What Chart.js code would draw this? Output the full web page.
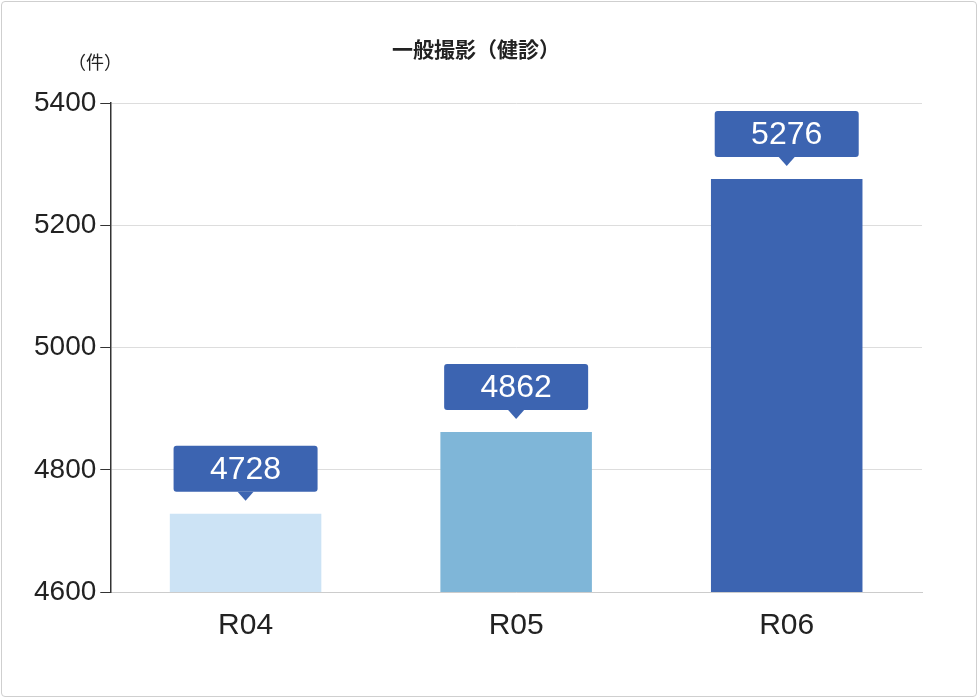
<!DOCTYPE html>
<html lang="ja">
<head>
<meta charset="UTF-8" />
<title>一般撮影（健診）</title>
<style>
    html, body { margin: 0; padding: 0; background: #fff; }
    .frame { position: absolute; left: 1px; top: 1px; width: 976px; height: 696px; border: 1px solid #cfcfcf; border-radius: 4px; box-sizing: border-box; }
    .unit { position: absolute; left: 68px; top: 48px; font: 18px "Noto Sans CJK JP", sans-serif; color: #222; }
    canvas { position: absolute; left: 0; top: 0; }
</style>
<script src="https://cdn.jsdelivr.net/npm/chart.js"></script>
</head>
<body>
<div class="frame"></div>
<canvas id="c" width="980" height="700"></canvas>
<div class="unit">（件）</div>
<script>
const categories = ['R04', 'R05', 'R06'];
const values = [4728, 4862, 5276];
const barColors = ['#cce3f5', '#7fb6d8', '#3c64b1'];
const yTicks = [4600, 4800, 5000, 5200, 5400];

// callout box above each bar
const callouts = {
    id: 'callouts',
    afterDatasetsDraw(chart) {
        const ctx = chart.ctx;
        chart.getDatasetMeta(0).data.forEach((bar, i) => {
            const w = 144, h = 46, gap = 22;
            const x = bar.x - w / 2, y = bar.y - gap - h;
            ctx.save();
            ctx.fillStyle = '#3c64b1';
            ctx.beginPath();
            ctx.roundRect(x, y, w, h, 3);
            ctx.fill();
            ctx.beginPath();
            ctx.moveTo(bar.x - 8, y + h);
            ctx.lineTo(bar.x, y + h + 9);
            ctx.lineTo(bar.x + 8, y + h);
            ctx.fill();
            ctx.fillStyle = '#fff';
            ctx.font = '32px "Liberation Sans", Arial, sans-serif';
            ctx.textAlign = 'center';
            ctx.textBaseline = 'middle';
            ctx.fillText(String(values[i]), bar.x, y + h / 2 + 1);
            ctx.restore();
        });
    }
};

new Chart(document.getElementById('c'), {
    type: 'bar',
    data: { labels: categories, datasets: [{ data: values, backgroundColor: barColors, barPercentage: 0.56, categoryPercentage: 1 }] },
    options: {
        responsive: false,
        animation: false,
        layout: { padding: { left: 30, right: 58, top: 0, bottom: 48 } },
        plugins: {
            legend: { display: false },
            tooltip: { enabled: false },
            title: { display: true, text: '一般撮影（健診）', color: '#222', font: { family: '"Noto Sans CJK JP", sans-serif', size: 21, weight: 'bold' }, padding: { top: 36, bottom: 42 } }
        },
        scales: {
            x: {
                grid: { display: false },
                border: { color: '#cccccc' },
                ticks: { color: '#222', font: { family: '"Liberation Sans", Arial', size: 30 }, padding: 8 }
            },
            y: {
                min: 4600, max: 5400,
                afterBuildTicks: axis => { axis.ticks = yTicks.map(v => ({ value: v })); },
                grid: { color: '#dddddd', tickColor: '#333', tickLength: 10 },
                border: { color: '#333', width: 1.5 },
                ticks: { color: '#222', font: { family: '"Liberation Sans", Arial', size: 28 }, padding: 4, callback: v => String(v) }
            }
        }
    },
    plugins: [callouts]
});
</script>
</body>
</html>
